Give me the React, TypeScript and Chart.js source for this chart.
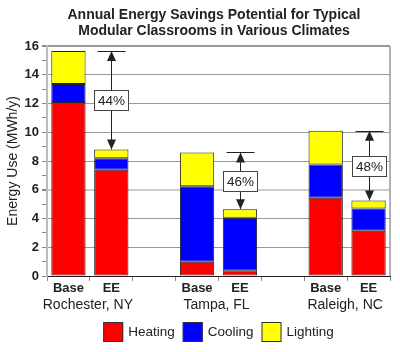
import React, { useEffect, useRef } from "react";
import { Chart, registerables } from "chart.js";

Chart.register(...registerables);

const titleLines = ["Annual Energy Savings Potential for Typical", "Modular Classrooms in Various Climates"];
const yAxisTitle = "Energy Use (MWh/y)";
const locations = ["Rochester, NY", "Tampa, FL", "Raleigh, NC"];
const cases = ["Base", "EE"];
// values per location: [Base, EE]
const heating = [12.1, 7.4, 1.0, 0.4, 5.45, 3.15];
const cooling = [1.25, 0.8, 5.25, 3.65, 2.3, 1.55];
const lighting = [2.3, 0.6, 2.35, 0.6, 2.35, 0.55];
const savingsLabels = ["44%", "46%", "48%"];
const seriesNames = ["Heating", "Cooling", "Lighting"];
const seriesColors = ["#ff0000", "#0000ff", "#ffff00"];
const yTicksMax = 16;

const FONT = "'Liberation Sans', Arial, Helvetica, sans-serif";

// build slots: Base, EE, spacer, Base, EE, spacer, Base, EE
const slotLabels: string[] = [];
const slotIndex: number[][] = [];
locations.forEach((_, i) => {
  const idx: number[] = [];
  cases.forEach((c) => {
    idx.push(slotLabels.length);
    slotLabels.push(c);
  });
  slotIndex.push(idx);
  if (i < locations.length - 1) slotLabels.push("");
});

function toSlots(values: number[]): (number | null)[] {
  const out: (number | null)[] = slotLabels.map(() => null);
  locations.forEach((_, i) => {
    cases.forEach((_, j) => {
      out[slotIndex[i][j]] = values[i * cases.length + j];
    });
  });
  return out;
}

const seriesValues = [heating, cooling, lighting];

const overlayPlugin = {
  id: "overlay",
  afterDraw(chart: any) {
    const ctx = chart.ctx as CanvasRenderingContext2D;
    const x = chart.scales.x;
    const y = chart.scales.y;
    const area = chart.chartArea;
    ctx.save();

    // right border
    ctx.strokeStyle = "#999";
    ctx.lineWidth = 1.5;
    ctx.beginPath();
    ctx.moveTo(area.right, area.top);
    ctx.lineTo(area.right, area.bottom);
    ctx.stroke();

    // title
    ctx.fillStyle = "#222";
    ctx.font = `bold 14px ${FONT}`;
    ctx.textAlign = "center";
    ctx.textBaseline = "middle";
    titleLines.forEach((t, i) => ctx.fillText(t, 214, 15 + i * 16));

    // savings annotations
    locations.forEach((_, i) => {
      const bi = slotIndex[i][0];
      const ei = slotIndex[i][1];
      const baseTotal = seriesValues.reduce((s, arr) => s + arr[i * 2], 0);
      const eeTotal = seriesValues.reduce((s, arr) => s + arr[i * 2 + 1], 0);
      const cx = Math.round(x.getPixelForValue(ei)) + 0.5;
      const yTop = y.getPixelForValue(baseTotal);
      const yBot = y.getPixelForValue(eeTotal);
      ctx.strokeStyle = "#222";
      ctx.fillStyle = "#222";
      ctx.lineWidth = 1;
      ctx.beginPath();
      ctx.moveTo(cx - 14, Math.round(yTop) + 0.5);
      ctx.lineTo(cx + 14, Math.round(yTop) + 0.5);
      ctx.moveTo(cx, yTop);
      ctx.lineTo(cx, yBot);
      ctx.stroke();
      ctx.beginPath();
      ctx.moveTo(cx, yTop);
      ctx.lineTo(cx - 4.5, yTop + 10);
      ctx.lineTo(cx + 4.5, yTop + 10);
      ctx.closePath();
      ctx.fill();
      ctx.beginPath();
      ctx.moveTo(cx, yBot);
      ctx.lineTo(cx - 4.5, yBot - 10);
      ctx.lineTo(cx + 4.5, yBot - 10);
      ctx.closePath();
      ctx.fill();
      const my = Math.round((yTop + yBot) / 2);
      const bw = 34;
      const bh = 20;
      ctx.fillStyle = "#fff";
      ctx.fillRect(cx - bw / 2, my - bh / 2, bw, bh);
      ctx.strokeStyle = "#444";
      ctx.strokeRect(cx - bw / 2, my - bh / 2 + 0.5, bw, bh);
      ctx.fillStyle = "#222";
      ctx.font = `13.5px ${FONT}`;
      ctx.textAlign = "center";
      ctx.textBaseline = "middle";
      ctx.fillText(savingsLabels[i], cx, my + 1);

      // location label
      ctx.font = `14px ${FONT}`;
      const lx = (x.getPixelForValue(bi) + x.getPixelForValue(ei)) / 2;
      ctx.fillText(locations[i], lx - 2, 305);
    });

    // legend
    ctx.font = `13.5px ${FONT}`;
    const boxW = 20;
    const gapBoxText = 5;
    const gapItems = 8;
    const widths = seriesNames.map((n) => boxW + gapBoxText + ctx.measureText(n).width);
    const total = widths.reduce((a, b) => a + b, 0) + gapItems * (seriesNames.length - 1);
    let lx = (area.left + area.right) / 2 - total / 2;
    const ly = 332;
    seriesNames.forEach((n, i) => {
      ctx.fillStyle = seriesColors[i];
      ctx.fillRect(lx, ly - 10, boxW, 20);
      ctx.strokeStyle = "#333";
      ctx.lineWidth = 1;
      ctx.strokeRect(lx + 0.5, ly - 9.5, boxW - 1, 19);
      ctx.fillStyle = "#222";
      ctx.textAlign = "left";
      ctx.textBaseline = "middle";
      ctx.fillText(n, lx + boxW + gapBoxText, ly);
      lx += widths[i] + gapItems;
    });

    ctx.restore();
  },
};

export default function App() {
  const ref = useRef<HTMLCanvasElement>(null);
  useEffect(() => {
    if (!ref.current) return;
    const chart = new Chart(ref.current, {
      type: "bar",
      data: {
        labels: slotLabels,
        datasets: seriesNames.map((name, i) => ({
          label: name,
          data: toSlots(seriesValues[i]),
          backgroundColor: seriesColors[i],
          borderColor: "#222",
          borderWidth: 1,
          borderSkipped: false,
          barPercentage: 0.8,
          categoryPercentage: 1,
        })),
      },
      options: {
        responsive: false,
        animation: false,
        devicePixelRatio: 1,
        layout: { padding: { top: 46, right: 10, bottom: 56, left: 0 } },
        plugins: {
          legend: { display: false },
          title: { display: false },
          tooltip: { enabled: false },
        },
        scales: {
          x: {
            stacked: true,
            offset: true,
            grid: {
              offset: true,
              drawOnChartArea: false,
              tickLength: 5,
              tickColor: "#888",
            },
            border: { color: "#222", width: 1 },
            ticks: {
              color: "#222",
              font: { family: FONT, size: 13, weight: "bold" },
              padding: 0,
              autoSkip: false,
              maxRotation: 0,
            },
            afterFit: (s: any) => {
              s.height = 20;
            },
          },
          y: {
            stacked: true,
            min: 0,
            max: yTicksMax,
            ticks: {
              stepSize: 1,
              autoSkip: false,
              color: "#222",
              font: { family: FONT, size: 13, weight: "bold" },
              padding: 3,
              callback: (v: any) => (Number(v) % 2 === 0 ? String(v) : ""),
            },
            grid: {
              tickLength: 5,
              tickColor: "#888",
              color: (c: any) => {
                const v = c.tick ? c.tick.value : 0;
                if (v % 2 === 1 || v === 0) return "rgba(0,0,0,0)";
                if (v === 6) return "#ccc";
                return "#999";
              },
              lineWidth: (c: any) => {
                const v = c.tick ? c.tick.value : 0;
                return v === 6 || v === 16 ? 2 : 1;
              },
            },
            border: { color: "#bbb", width: 2 },
            title: {
              display: true,
              text: yAxisTitle,
              color: "#222",
              font: { family: FONT, size: 14 },
              padding: { top: 5, bottom: 0 },
            },
            afterFit: (s: any) => {
              s.width = 47;
            },
          },
        },
      },
      plugins: [overlayPlugin],
    });
    return () => chart.destroy();
  }, []);
  return (
    <div style={{ position: "fixed", left: 0, top: 0, width: 400, height: 352, background: "#fff" }}>
      <canvas ref={ref} width={400} height={352} />
    </div>
  );
}
